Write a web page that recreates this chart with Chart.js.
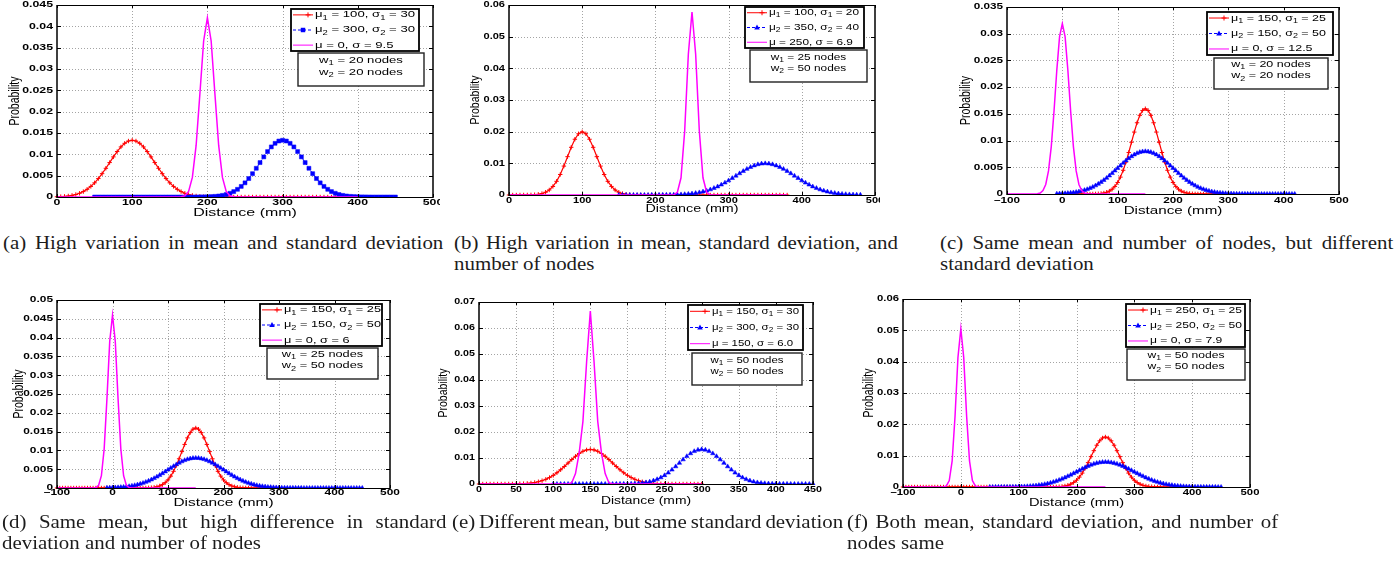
<!DOCTYPE html>
<html>
<head>
<meta charset="utf-8">
<script src="https://cdn.jsdelivr.net/npm/chart.js"></script>
<style>
  body { margin: 0; width: 1396px; height: 578px; overflow: hidden; background: #fff; position: relative; }
  canvas { position: absolute; }
  .cap { position: absolute; font-family: "Liberation Serif", "Times New Roman", Times, serif; font-size: 19px;
         line-height: 21px; color: #1c1c1c; white-space: nowrap; transform: scaleX(1.1); transform-origin: 0 0; }
</style>
</head>
<body>
<canvas id="ca" width="440" height="222"></canvas>
<canvas id="cb" width="425" height="222"></canvas>
<canvas id="cc" width="461" height="222"></canvas>
<canvas id="cd" width="440" height="223"></canvas>
<canvas id="ce" width="430" height="223"></canvas>
<canvas id="cf" width="450" height="223"></canvas>
<script>
// all probabilities below are in units of 1e-5, sampled every 5 mm from the series start
const STEP = 5;

// (a)
const aXTicks = [0, 100, 200, 300, 400, 500];
const aYTicks = [0, 500, 1000, 1500, 2000, 2500, 3000, 3500, 4000, 4500];
const aStarts = [0, 50, 0];
const aRed = [
  5,9,15,24,38,58,87,127,180,248,332,432,547,673,807,940,1065,1174,1258,1312,
  1330,
  1312,1258,1174,1065,940,807,673,547,432,332,248,180,127,87,58,38,24,15,9,5,3,2,1,0,
  0,0,0,0,0,0,0,0,0,0, 0,0,0,0,0,0,0,0,0,0, 0,0,0,0,0,0,0,0,0,0, 0,0,0,0,0,0
];
const aBlue = [
  0,0,0,0,0,0,0,0,0,0, 0,0,0,0,0,0,0,0,0,0, 0,0,0,0,0,0,0,
  1,2,3,5,9,15,24,38,58,87,127,180,248,332,432,547,673,807,940,1065,1174,1258,1312,
  1330,
  1312,1258,1174,1065,940,807,673,547,432,332,248,180,127,87,58,38,24,15,9,5,3,2,1,0,
  0,0,0,0,0,0
];
const aMag = [
  0,0,0,0,0,0,0,0,0,0, 0,0,0,0,0,0,0,0,0,0, 0,0,0,0,0,0,0,0,0,0, 0,0,0,
  5,29,132,458,1208,2414,3657,
  4200,
  3657,2414,1208,458,132,29,5,0,
  0,0,0,0,0,0,0,0,0,0, 0,0,0,0,0,0,0,0,0,0, 0,0,0,0,0,0,0,0,0,0, 0,0
];
const aLabels = ['μ_1 = 100, σ_1 = 30', 'μ_2 = 300, σ_2 = 30', 'μ = 0, σ = 9.5'];
const aNodes = ['w_1 = 20 nodes', 'w_2 = 20 nodes'];

// (b)
const bXTicks = [0, 100, 200, 300, 400, 500];
const bYTicks = [0, 1000, 2000, 3000, 4000, 5000, 6000];
const bStarts = [0, 150, 0];
const bRed = [
  0,0,0,0,
  1,2,4,10,22,45,88,159,270,432,648,913,1210,1506,1761,1934,
  1995,
  1934,1761,1506,1210,913,648,432,270,159,88,45,22,10,4,2,1,0,
  0,0,0,0,0,0,0,0,0,0, 0,0,0,0,0,0,0,0,0,0, 0,0,0,0,0,0,0,0,0,0, 0,0,0,0,0,0,0,0,0
];
const bBlue = [
  0,0,0,0,0,0,0,0,0,
  1,1,1,2,3,5,8,11,16,23,32,44,59,79,104,135,172,216,266,324,387,456,530,605,680,753,820,880,929,966,989,
  997,
  989,966,929,880,820,753,680,605,530,456,387,324,266,216,172,135,104,79,59,44,32,23,16,11,8,5
];
const bMag = [
  0,0,0,0,0,0,0,0,0,0, 0,0,0,0,0,0,0,0,0,0, 0,0,0,0,0,0,0,0,0,0, 0,0,0,0,0,0,0,0,0,0, 0,0,0,0,0,
  8,87,544,2023,4446,
  5780,
  4446,2023,544,87,8,0,
  0,0,0,0,0,0,0,0,0,0, 0,0,0,0,0,0,0,0,0,0
];
const bLabels = ['μ_1 = 100, σ_1 = 20', 'μ_2 = 350, σ_2 = 40', 'μ = 250, σ = 6.9'];
const bNodes = ['w_1 = 25 nodes', 'w_2 = 50 nodes'];

// (c)
const cXTicks = [-100, 0, 100, 200, 300, 400, 500];
const cYTicks = [0, 500, 1000, 1500, 2000, 2500, 3000, 3500];
const cStarts = [0, -10, -100];
const cRed = [
  0,0,0,0,0,0,0,0,0,0, 0,
  1,2,5,10,18,32,54,90,142,216,316,444,599,777,968,1159,1333,1473,1564,
  1596,
  1564,1473,1333,1159,968,777,599,444,316,216,142,90,54,32,18,10,5,2,1,0,
  0,0,0,0,0,0,0,0,0,0
];
const cBlue = [
  5,7,9,12,16,21,27,35,45,57,71,88,108,131,158,188,222,259,299,343,388,436,484,532,579,625,667,704,737,763,782,794,
  798,
  794,782,763,737,704,667,625,579,532,484,436,388,343,299,259,222,188,158,131,108,88,71,57,45,35,27,21,16,12,9,7,5,3,2,2,1,1,1,0,
  0,0,0,0,0,0,0,0,0,0, 0,0,0,0,0
];
const cMag = [
  0,0,0,0,0,0,0,0,0,0,
  1,5,19,63,179,432,887,1553,2316,2945,
  3190,
  2945,2316,1553,887,432,179,63,19,5,1,0,
  0,0,0,0,0,0,0,0,0,0, 0,0,0,0,0,0,0,0,0
];
const cLabels = ['μ_1 = 150, σ_1 = 25', 'μ_2 = 150, σ_2 = 50', 'μ = 0, σ = 12.5'];
const cNodes = ['w_1 = 20 nodes', 'w_2 = 20 nodes'];

// (d)
const dXTicks = [-100, 0, 100, 200, 300, 400, 500];
const dYTicks = [0, 500, 1000, 1500, 2000, 2500, 3000, 3500, 4000, 4500, 5000];
const dStarts = [-100, -10, -100];
const dRed = [
  0,0,0,0,0,0,0,0,0,0, 0,0,0,0,0,0,0,0,0,0, 0,0,0,0,0,0,0,0,0,0, 0,
  1,2,5,10,18,32,54,90,142,216,316,444,599,777,968,1159,1333,1473,1564,
  1596,
  1564,1473,1333,1159,968,777,599,444,316,216,142,90,54,32,18,10,5,2,1,0,
  0,0,0,0,0,0,0,0,0,0
];
const dBlue = [
  5,7,9,12,16,21,27,35,45,57,71,88,108,131,158,188,222,259,299,343,388,436,484,532,579,625,667,704,737,763,782,794,
  798,
  794,782,763,737,704,667,625,579,532,484,436,388,343,299,259,222,188,158,131,108,88,71,57,45,35,27,21,16,12,9,7,5,3,2,2,1,1,1,0,
  0,0,0,0,0,0,0,0,0,0, 0,0,0,0,0,0,0,0,0,0, 0
];
const dMag = [
  0,0,0,0,0,0,0,0,0,0, 0,0,0,
  2,12,74,327,1042,2378,3900,
  4600,
  3900,2378,1042,327,74,12,2,0,
  0,0,0,0,0,0,0,0,0,0, 0,0,0,0,0,0,0,0,0,0, 0,0
];
const dLabels = ['μ_1 = 150, σ_1 = 25', 'μ_2 = 150, σ_2 = 50', 'μ = 0, σ = 6'];
const dNodes = ['w_1 = 25 nodes', 'w_2 = 50 nodes'];

// (e)
const eXTicks = [0, 50, 100, 150, 200, 250, 300, 350, 400, 450];
const eYTicks = [0, 1000, 2000, 3000, 4000, 5000, 6000, 7000];
const eStarts = [0, 100, 0];
const eRed = [
  0,0,0,0,0,0,0,
  1,2,3,5,9,15,24,38,58,87,127,180,248,332,432,547,673,807,940,1065,1174,1258,1312,
  1330,
  1312,1258,1174,1065,940,807,673,547,432,332,248,180,127,87,58,38,24,15,9,5,3,2,1,0,
  0,0,0,0,0,0
];
const eBlue = [
  0,0,0,0,0,0,0,0,0,0, 0,0,0,0,0,0,0,
  1,2,3,5,9,15,24,38,58,87,127,180,248,332,432,547,673,807,940,1065,1174,1258,1312,
  1330,
  1312,1258,1174,1065,940,807,673,547,432,332,248,180,127,87,58,38,24,15,9,5,3,2,1,0,
  0,0,0,0,0,0
];
const eMag = [
  0,0,0,0,0,0,0,0,0,0, 0,0,0,0,0,0,0,0,0,0, 0,0,0,0,0,
  50,400,1200,2400,4700,
  6650,
  4700,2400,1200,400,50,0,
  0,0,0,0,0,0,0,0,0,0, 0,0,0,0,0,0,0,0,0,0, 0,0,0,0
];
const eLabels = ['μ_1 = 150, σ_1 = 30', 'μ_2 = 300, σ_2 = 30', 'μ = 150, σ = 6.0'];
const eNodes = ['w_1 = 50 nodes', 'w_2 = 50 nodes'];

// (f)
const fXTicks = [-100, 0, 100, 200, 300, 400, 500];
const fYTicks = [0, 1000, 2000, 3000, 4000, 5000, 6000];
const fStarts = [-100, 50, -100];
const fRed = [
  0,0,0,0,0,0,0,0,0,0, 0,0,0,0,0,0,0,0,0,0, 0,0,0,0,0,0,0,0,0,0, 0,0,0,0,0,0,0,0,0,0, 0,0,0,0,0,0,0,0,0,0, 0,
  1,2,5,10,18,32,54,90,142,216,316,444,599,777,968,1159,1333,1473,1564,
  1596,
  1564,1473,1333,1159,968,777,599,444,316,216,142,90,54,32,18,10,5,2,1,0,
  0,0,0,0,0,0,0,0,0,0
];
const fBlue = [
  0,0,
  1,1,1,2,2,3,5,7,9,12,16,21,27,35,45,57,71,88,108,131,158,188,222,259,299,343,388,436,484,532,579,625,667,704,737,763,782,794,
  798,
  794,782,763,737,704,667,625,579,532,484,436,388,343,299,259,222,188,158,131,108,88,71,57,45,35,27,21,16,12,9,7,5,3,2,2,1,1,1,0,
  0
];
const fMag = [
  0,0,0,0,0,0,0,0,0,0, 0,0,0,0,
  4,34,205,832,2267,4133,
  5050,
  4133,2267,832,205,34,4,0,
  0,0,0,0,0,0,0,0,0,0, 0,0,0,0,0,0,0,0,0,0, 0,0,0,0,0,0,0,0,0,0, 0,0,0,0,0,0,0,0,0,0, 0,0,0
];
const fLabels = ['μ_1 = 250, σ_1 = 25', 'μ_2 = 250, σ_2 = 50', 'μ = 0, σ = 7.9'];
const fNodes = ['w_1 = 50 nodes', 'w_2 = 50 nodes'];

const FONT = '"Liberation Sans", Arial, sans-serif';

// page coordinates: canvas box, plot area, label rows, legend boxes
const panels = [
  { id: 'ca', box: [0, 0], area: [57, 5, 433, 197], xt: aXTicks, yt: aYTicks, starts: aStarts, ys: [aRed, aBlue, aMag],
    labels: aLabels, nodes: aNodes, blue: 'rect', sx: 1.45, tickY: 203, titleY: 213, yTitleX: 15,
    leg1: [291, 9, 419, 51], leg2: [298, 53, 424, 86], legW: 100 },
  { id: 'cb', box: [455, 0], area: [509, 5, 875, 195], xt: bXTicks, yt: bYTicks, starts: bStarts, ys: [bRed, bBlue, bMag],
    labels: bLabels, nodes: bNodes, blue: 'triangle', sx: 1.3, tickY: 201, titleY: 209, yTitleX: 475,
    leg1: [745, 7, 864, 48], leg2: [750, 50, 867, 82], legW: 90 },
  { id: 'cc', box: [935, 0], area: [1007, 7, 1339, 194], xt: cXTicks, yt: cYTicks, starts: cStarts, ys: [cRed, cBlue, cMag],
    labels: cLabels, nodes: cNodes, blue: 'triangle', sx: 1.38, tickY: 201, titleY: 211, yTitleX: 966,
    leg1: [1207, 12, 1333, 55], leg2: [1214, 58, 1328, 89], legW: 95 },
  { id: 'cd', box: [0, 292], area: [57, 300, 390, 488], xt: dXTicks, yt: dYTicks, starts: dStarts, ys: [dRed, dBlue, dMag],
    labels: dLabels, nodes: dNodes, blue: 'triangle', sx: 1.4, tickY: 493, titleY: 503, yTitleX: 19,
    leg1: [260, 304, 382, 346], leg2: [267, 348, 378, 379], legW: 97 },
  { id: 'ce', box: [430, 292], area: [479, 302, 813, 484], xt: eXTicks, yt: eYTicks, starts: eStarts, ys: [eRed, eBlue, eMag],
    labels: eLabels, nodes: eNodes, blue: 'triangle', sx: 1.26, tickY: 490, titleY: 501, yTitleX: 443,
    leg1: [688, 305, 803, 350], leg2: [692, 353, 802, 385], legW: 87 },
  { id: 'cf', box: [850, 292], area: [903, 299, 1250, 487], xt: fXTicks, yt: fYTicks, starts: fStarts, ys: [fRed, fBlue, fMag],
    labels: fLabels, nodes: fNodes, blue: 'triangle', sx: 1.33, tickY: 493, titleY: 503, yTitleX: 869,
    leg1: [1126, 304, 1245, 347], leg2: [1127, 349, 1245, 380], legW: 92 }
];

const captions = [
  { x: 3, y: 232, w: 440, lines: ['(a) High variation in mean and standard deviation'] },
  { x: 454, y: 232, w: 444, lines: ['(b) High variation in mean, standard deviation, and', 'number of nodes'] },
  { x: 940, y: 232, w: 453, lines: ['(c) Same mean and number of nodes, but different', 'standard deviation'] },
  { x: 2, y: 511, w: 444, lines: ['(d) Same mean, but high difference in standard', 'deviation and number of nodes'] },
  { x: 452, y: 511, w: 391, lines: ['(e) Different mean, but same standard deviation'] },
  { x: 847, y: 511, w: 431, lines: ['(f) Both mean, standard deviation, and number of', 'nodes same'] }
];

function pts(x0, ys) {
  return ys.map((y, i) => ({ x: x0 + i * STEP, y: y }));
}

function sText(ctx, s, x, y, sx, align) {
  ctx.save();
  ctx.translate(x, y);
  ctx.scale(sx, 1);
  ctx.textAlign = align;
  ctx.fillText(s, 0, 0);
  ctx.restore();
}

// text with _x subscripts, size in px, drawn stretched by sx
function subParts(ctx, str, size) {
  const parts = [];
  str.split(/_(\w)/).forEach((s, i) => {
    if (!s) return;
    const sub = i % 2 === 1;
    ctx.font = (sub ? size * 0.72 : size) + 'px ' + FONT;
    parts.push({ s, sub, w: ctx.measureText(s).width });
  });
  return parts;
}
function subText(ctx, str, x, y, size, sx, align) {
  const parts = subParts(ctx, str, size);
  const total = parts.reduce((t, p) => t + p.w, 0);
  ctx.save();
  ctx.translate(x, y);
  ctx.scale(sx, 1);
  ctx.textAlign = 'left';
  ctx.textBaseline = 'middle';
  let cx = align === 'center' ? -total / 2 : 0;
  parts.forEach(p => {
    ctx.font = (p.sub ? size * 0.72 : size) + 'px ' + FONT;
    ctx.fillText(p.s, cx, p.sub ? size * 0.32 : 0);
    cx += p.w;
  });
  ctx.restore();
  return total;
}

function marker(ctx, style, x, y, r, color) {
  ctx.setLineDash([]);
  ctx.fillStyle = color;
  ctx.strokeStyle = color;
  ctx.lineWidth = 1;
  if (style === 'cross') {
    ctx.beginPath();
    ctx.moveTo(x - r, y); ctx.lineTo(x + r, y);
    ctx.moveTo(x, y - r); ctx.lineTo(x, y + r);
    ctx.stroke();
  } else if (style === 'rect') {
    ctx.fillRect(x - r * 0.72, y - r * 0.72, r * 1.44, r * 1.44);
  } else if (style === 'triangle') {
    ctx.beginPath();
    ctx.moveTo(x, y - r);
    ctx.lineTo(x + r * 0.95, y + r * 0.65);
    ctx.lineTo(x - r * 0.95, y + r * 0.65);
    ctx.closePath();
    ctx.fill();
  }
}

function fmtX(v) { return v < 0 ? '\u2013' + (-v) : String(v); }
function fmtY(v) { return String(parseFloat((v / 1e5).toFixed(4))); }

function decor(p) {
  const ox = p.box[0], oy = p.box[1];
  return {
    id: 'decor',
    beforeDatasetsDraw(chart) {
      const { ctx, chartArea: a, scales: { x, y } } = chart;
      ctx.save();
      ctx.strokeStyle = '#a4a4a4';
      ctx.lineWidth = 1;
      ctx.setLineDash([1, 2]);
      ctx.beginPath();
      x.ticks.forEach(t => {
        const px = Math.round(x.getPixelForValue(t.value)) + 0.5;
        if (px > a.left + 2 && px < a.right - 2) { ctx.moveTo(px, a.top); ctx.lineTo(px, a.bottom); }
      });
      y.ticks.forEach(t => {
        const py = Math.round(y.getPixelForValue(t.value)) + 0.5;
        if (py > a.top + 2 && py < a.bottom - 2) { ctx.moveTo(a.left, py); ctx.lineTo(a.right, py); }
      });
      ctx.stroke();
      ctx.restore();
    },
    afterDatasetsDraw(chart) {
      const { ctx, chartArea: a, scales: { x, y } } = chart;
      ctx.save();
      ctx.setLineDash([]);
      ctx.strokeStyle = '#000';
      // axes box
      ctx.lineWidth = 1;
      ctx.beginPath();
      ctx.moveTo(a.left, Math.round(a.top) + 0.5); ctx.lineTo(a.right, Math.round(a.top) + 0.5);
      ctx.moveTo(a.left, Math.round(a.bottom) + 0.5); ctx.lineTo(a.right, Math.round(a.bottom) + 0.5);
      ctx.stroke();
      ctx.lineWidth = 1.5;
      ctx.beginPath();
      ctx.moveTo(a.left, a.top); ctx.lineTo(a.left, a.bottom + 1);
      ctx.moveTo(a.right, a.top); ctx.lineTo(a.right, a.bottom + 1);
      ctx.stroke();
      // inward ticks
      ctx.lineWidth = 1;
      ctx.beginPath();
      x.ticks.forEach(t => {
        const px = Math.round(x.getPixelForValue(t.value)) + 0.5;
        ctx.moveTo(px, a.bottom); ctx.lineTo(px, a.bottom - 3);
        ctx.moveTo(px, a.top); ctx.lineTo(px, a.top + 3);
      });
      y.ticks.forEach(t => {
        const py = Math.round(y.getPixelForValue(t.value)) + 0.5;
        ctx.moveTo(a.left, py); ctx.lineTo(a.left + 4, py);
        ctx.moveTo(a.right, py); ctx.lineTo(a.right - 4, py);
      });
      ctx.stroke();

      // tick labels
      ctx.fillStyle = '#000';
      ctx.font = 'bold 8.5px ' + FONT;
      ctx.textBaseline = 'middle';
      x.ticks.forEach(t => sText(ctx, fmtX(t.value), x.getPixelForValue(t.value), p.tickY - oy, p.sx, 'center'));
      y.ticks.forEach(t => sText(ctx, fmtY(t.value), a.left - 4, y.getPixelForValue(t.value), p.sx, 'right'));

      // axis titles
      ctx.font = '11px ' + FONT;
      sText(ctx, 'Distance (mm)', (a.left + a.right) / 2, p.titleY - oy, p.sx, 'center');
      ctx.save();
      ctx.translate(p.yTitleX - ox, (a.top + a.bottom) / 2);
      ctx.rotate(-Math.PI / 2);
      ctx.scale(1, p.sx);
      ctx.font = '10.5px ' + FONT;
      ctx.textAlign = 'center';
      ctx.textBaseline = 'middle';
      ctx.fillText('Probability', 0, 0);
      ctx.restore();

      // legend
      const natural = subParts(ctx, p.labels[0], 9).reduce((t, q) => t + q.w, 0);
      const lsx = p.legW / natural;
      const [l1, t1, r1, b1] = [p.leg1[0] - ox, p.leg1[1] - oy, p.leg1[2] - ox, p.leg1[3] - oy];
      ctx.fillStyle = '#fff';
      ctx.fillRect(l1, t1, r1 - l1, b1 - t1);
      ctx.strokeStyle = '#000';
      ctx.lineWidth = 1.8;
      ctx.strokeRect(l1, t1, r1 - l1, b1 - t1);
      const h1 = b1 - t1;
      chart.data.datasets.forEach((ds, i) => {
        const ey = t1 + h1 * (0.14 + 0.36 * i);
        ctx.strokeStyle = ds.borderColor;
        ctx.lineWidth = 1;
        ctx.setLineDash(ds.borderDash || []);
        ctx.beginPath();
        ctx.moveTo(l1 + 2, ey); ctx.lineTo(l1 + 22, ey);
        ctx.stroke();
        if (ds.pointRadius > 0) {
          marker(ctx, ds.pointStyle, ds.pointStyle === 'cross' ? l1 + 17 : l1 + 12, ey, ds.pointRadius + 0.3, ds.borderColor);
        }
        ctx.fillStyle = '#000';
        subText(ctx, ds.label, l1 + 24, ey, 9, lsx, 'left');
      });
      const [l2, t2, r2, b2] = [p.leg2[0] - ox, p.leg2[1] - oy, p.leg2[2] - ox, p.leg2[3] - oy];
      ctx.setLineDash([]);
      ctx.fillStyle = '#fff';
      ctx.fillRect(l2, t2, r2 - l2, b2 - t2);
      ctx.strokeStyle = '#222';
      ctx.lineWidth = 1.4;
      ctx.strokeRect(l2, t2, r2 - l2, b2 - t2);
      ctx.fillStyle = '#000';
      p.nodes.forEach((s, i) => {
        subText(ctx, s, (l2 + r2) / 2, t2 + (b2 - t2) * (0.22 + 0.36 * i), 9, lsx, 'center');
      });
      ctx.restore();
    }
  };
}

panels.forEach(p => {
  const cv = document.getElementById(p.id);
  cv.style.left = p.box[0] + 'px';
  cv.style.top = p.box[1] + 'px';
  const W = cv.width, H = cv.height;
  const [L, T, R, B] = p.area;
  const colors = ['#ff0000', '#0000ff', '#ff00ff'];
  const datasets = [
    { label: p.labels[0], data: pts(p.starts[0], p.ys[0]), borderColor: colors[0], borderWidth: 1.2,
      pointStyle: 'cross', pointRadius: 2.2, pointBorderWidth: 1, pointBorderColor: colors[0], order: 3 },
    { label: p.labels[1], data: pts(p.starts[1], p.ys[1]), borderColor: colors[1], borderWidth: 1, borderDash: [3, 2],
      pointStyle: p.blue, pointRadius: p.blue === 'rect' ? 2.8 : 2.6, pointBorderWidth: 0.5,
      pointBackgroundColor: colors[1], pointBorderColor: colors[1], order: 2 },
    { label: p.labels[2], data: pts(p.starts[2], p.ys[2]), borderColor: colors[2], borderWidth: 1.5,
      pointRadius: 0, order: 1 }
  ];
  new Chart(cv, {
    type: 'line',
    data: { datasets },
    options: {
      responsive: false,
      animation: false,
      devicePixelRatio: 1,
      events: [],
      layout: { padding: { left: L - p.box[0], top: T - p.box[1], right: p.box[0] + W - R, bottom: p.box[1] + H - B } },
      elements: { line: { tension: 0 } },
      datasets: { line: { clip: { left: 3, right: 3, top: 3, bottom: 1 } } },
      plugins: { legend: { display: false }, tooltip: { enabled: false } },
      scales: {
        x: {
          type: 'linear', min: p.xt[0], max: p.xt[p.xt.length - 1],
          ticks: { display: false, stepSize: p.xt[1] - p.xt[0] },
          grid: { display: false }, border: { display: false },
          afterFit: s => { s.height = 0; }
        },
        y: {
          type: 'linear', min: p.yt[0], max: p.yt[p.yt.length - 1],
          ticks: { display: false, stepSize: p.yt[1] - p.yt[0] },
          grid: { display: false }, border: { display: false },
          afterFit: s => { s.width = 0; }
        }
      }
    },
    plugins: [decor(p)]
  });
});

// captions, first lines justified to their measured width
const SX = 1.1;
captions.forEach(c => {
  c.lines.forEach((line, i) => {
    const d = document.createElement('div');
    d.className = 'cap';
    d.textContent = line;
    d.style.left = c.x + 'px';
    d.style.top = (c.y + i * 21) + 'px';
    document.body.appendChild(d);
    if (i === 0) {
      const gaps = line.split(' ').length - 1;
      const extra = (c.w / SX - d.offsetWidth) / gaps;
      d.style.wordSpacing = extra.toFixed(2) + 'px';
    }
  });
});
</script>
</body>
</html>
